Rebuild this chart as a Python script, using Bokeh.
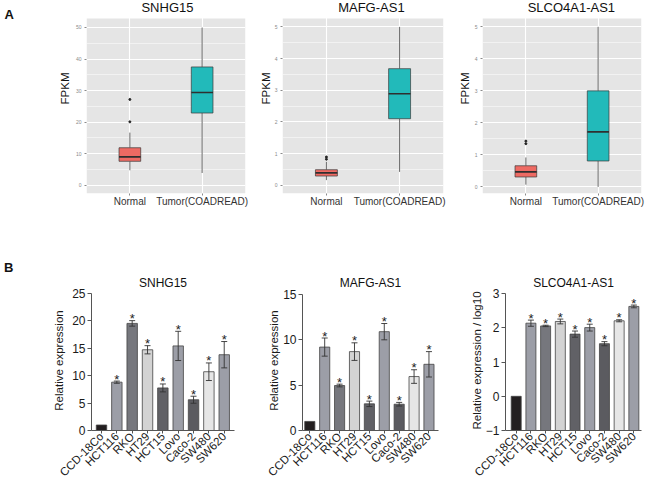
import math
from bokeh.plotting import figure
from bokeh.models import (FixedTicker, Label, Whisker, TeeHead, ColumnDataSource,
                          Range1d, BoxAnnotation, Div)
from bokeh.layouts import column, row
from bokeh.embed import file_html
from bokeh.resources import INLINE
from bokeh.core.properties import value

FONT = "Liberation Sans"

# ---------------- Panel A data (TCGA COADREAD, FPKM boxplots) ----------------
box_groups = ["Normal", "Tumor(COADREAD)"]

snhg15_q1 = [7.6, 22.9]
snhg15_med = [9.0, 29.4]
snhg15_q3 = [11.9, 37.5]
snhg15_lo = [4.75, 3.9]
snhg15_hi = [16.7, 50.0]
snhg15_out_group = [0, 0]
snhg15_out_val = [20.1, 27.2]

mafg_box_q1 = [0.29, 2.10]
mafg_box_med = [0.39, 2.89]
mafg_box_q3 = [0.49, 3.68]
mafg_box_lo = [0.16, 0.42]
mafg_box_hi = [0.74, 5.0]
mafg_out_group = [0, 0]
mafg_out_val = [0.82, 0.89]

slco_box_q1 = [0.31, 0.81]
slco_box_med = [0.47, 1.72]
slco_box_q3 = [0.66, 3.0]
slco_box_lo = [0.07, 0.0]
slco_box_hi = [0.92, 5.0]
slco_out_group = [0, 0]
slco_out_val = [1.35, 1.43]

snhg15_yticks = [0, 10, 20, 30, 40, 50]
small_yticks = [0, 1, 2, 3, 4, 5]

# ---------------- Panel B data (qRT-PCR in cell lines) ----------------
cell_lines = ["CCD-18Co", "HCT116", "RKO", "HT29", "HCT15", "Lovo", "Caco-2", "SW480", "SW620"]

snhg15_mean = [1.0, 8.8, 19.5, 14.7, 7.75, 15.4, 5.6, 10.7, 13.8]
snhg15_err = [0.0, 0.2, 0.5, 0.75, 0.72, 2.66, 0.64, 1.6, 2.4]

mafg_mean = [1.0, 9.2, 4.96, 8.7, 2.94, 10.9, 2.9, 5.95, 7.3]
mafg_err = [0.0, 1.0, 0.15, 0.97, 0.3, 0.9, 0.2, 0.75, 1.4]

slco_mean = [0.0, 2.14, 2.06, 2.19, 1.82, 2.01, 1.54, 2.21, 2.63]
slco_err = [0.0, 0.09, 0.02, 0.07, 0.09, 0.1, 0.06, 0.03, 0.04]

snhg15_bar_ticks = [0, 5, 10, 15, 20, 25]
mafg_bar_ticks = [0, 5, 10, 15]
slco_bar_ticks = [-1, 0, 1, 2, 3]

# ---------------- styles ----------------
BOX_COLORS = ["#EE6A63", "#22BABA"]
BAR_COLORS = ["#231F20", "#9C9EA7", "#76777D", "#D3D3D3", "#616166",
              "#9C9EA7", "#5B5B60", "#E6E6E6", "#9C9EA7"]
GRAY_BG = "#E5E5E5"


def make_fig(spec, xr, yr):
    left, top, w, h, L, R, T, B = spec
    p = figure(width=w, height=h, x_range=Range1d(*xr), y_range=Range1d(*yr),
               min_border_left=L, min_border_right=R, min_border_top=T, min_border_bottom=B,
               output_backend="svg", toolbar_location=None, tools="")
    p.outline_line_color = None
    p.border_fill_color = "white"
    p.background_fill_color = "white"
    return p


def frame_of(spec):
    left, top, w, h, L, R, T, B = spec
    return (left + L, top + T, left + w - R, top + h - B)


def place(p, spec, rx, ry):
    fl, ft, fr, fb = frame_of(spec)
    x0, x1 = p.x_range.start, p.x_range.end
    y0, y1 = p.y_range.start, p.y_range.end
    x = x0 + (rx - fl) * (x1 - x0) / (fr - fl)
    y = y1 - (ry - ft) * (y1 - y0) / (fb - ft)
    return x, y


def add_text(p, spec, rx, ry, text, size, bold=False, align="center", angle=0.0):
    x, y = place(p, spec, rx, ry)
    p.add_layout(Label(x=x, y=y, text=text, text_font=FONT, text_font_size=size,
                       text_font_style="bold" if bold else "normal", angle=angle,
                       text_align=align, text_baseline="middle", text_color="#111111"))


def strip(left, top, w, h, T, B):
    """Blank figure holding free text; its frame matches the neighbours' frames."""
    spec = (left, top, w, h, 0, 0, T, B)
    p = figure(width=w, height=h, x_range=Range1d(left, left + w),
               y_range=Range1d(top + h - B, top + T),
               min_border_left=0, min_border_right=0, min_border_top=T, min_border_bottom=B,
               x_axis_location=None, y_axis_location=None,
               output_backend="svg", toolbar_location=None, tools="")
    p.outline_line_color = None
    p.grid.visible = False
    return p, spec


def box_panel(spec, gray_top_px, yr, yticks, q1, med, q3, lo, hi, out_g, out_v, title, title_x):
    xs = list(range(1, len(box_groups) + 1))
    fl, ft, fr, fb = frame_of(spec)
    per_px = (yr[1] - yr[0]) / (fb - gray_top_px)
    ytop = yr[1] + (gray_top_px - ft) * per_px
    p = make_fig(spec, (0.4, 2.6), (yr[0], ytop))
    p.add_layout(BoxAnnotation(left=0.4, right=2.6, bottom=yr[0], top=yr[1],
                               fill_color=GRAY_BG, fill_alpha=1.0, line_color=None,
                               level="image"))
    step = yticks[1] - yticks[0]
    minors = [t + step / 2 for t in yticks[:-1]]
    p.xaxis.ticker = FixedTicker(ticks=xs)
    p.xaxis.major_label_overrides = {x: g for x, g in zip(xs, box_groups)}
    p.yaxis.ticker = FixedTicker(ticks=yticks, minor_ticks=minors)
    p.xgrid.ticker = FixedTicker(ticks=xs)
    p.xgrid.bounds = (yr[0], yr[1])
    p.ygrid.ticker = FixedTicker(ticks=yticks, minor_ticks=minors)
    p.grid.grid_line_color = "white"
    p.grid.grid_line_width = 1.1
    p.ygrid.minor_grid_line_color = "white"
    p.ygrid.minor_grid_line_width = 0.5
    for ax in (p.xaxis, p.yaxis):
        ax.axis_line_color = None
        ax.major_tick_line_color = "#8A8A8A"
        ax.major_tick_out = 2
        ax.major_tick_in = 0
        ax.minor_tick_line_color = None
        ax.major_label_text_font = FONT
    p.yaxis.major_label_text_font_size = "5px"
    p.yaxis.major_label_text_color = "#8A8A8A"
    p.yaxis.major_label_standoff = 1
    p.xaxis.major_label_text_font_size = "10px"
    p.xaxis.major_label_text_color = "#333333"
    p.xaxis.major_label_standoff = 0

    p.segment(xs, hi, xs, q3, line_color="#444444", line_width=0.8)
    p.segment(xs, lo, xs, q1, line_color="#444444", line_width=0.8)
    p.vbar(x=xs, width=0.3, bottom=q1, top=q3, fill_color=BOX_COLORS,
           line_color="#3A3A3A", line_width=0.7)
    p.segment([x - 0.15 for x in xs], med, [x + 0.15 for x in xs], med,
              line_color="#2F2F2F", line_width=1.6)
    p.scatter([xs[g] for g in out_g], out_v, size=2.0, color="#222222")
    add_text(p, spec, title_x, 6.5, title, "13px")
    return p


def bar_panel(spec, xr, yr, yticks, mean, err, base, title, ylabel, label_standoff):
    xs = list(range(len(cell_lines)))
    p = make_fig(spec, xr, yr)
    p.grid.visible = False
    p.title.text = title
    p.title.align = "center"
    p.title.text_font = FONT
    p.title.text_font_size = "12px"
    p.title.text_font_style = "normal"
    p.title.text_color = "#111111"
    p.title.standoff = 1
    p.vbar(x=xs, width=0.68, bottom=base, top=mean, fill_color=BAR_COLORS,
           line_color="#444444", line_width=0.8)
    idx = [i for i in xs if err[i] > 0]
    src = ColumnDataSource(dict(x=[xs[i] for i in idx],
                                upper=[mean[i] + err[i] for i in idx],
                                lower=[mean[i] - err[i] for i in idx]))
    wk = Whisker(base="x", upper="upper", lower="lower", source=src, dimension="height",
                 line_color="#333333", line_width=0.9,
                 upper_head=TeeHead(size=6, line_color="#333333", line_width=0.9),
                 lower_head=TeeHead(size=6, line_color="#333333", line_width=0.9))
    wk.level = "overlay"
    p.add_layout(wk)
    p.text(x=[xs[i] for i in idx], y=[mean[i] + err[i] for i in idx], text=["*"] * len(idx),
           text_align="center", text_baseline="alphabetic", text_font=value(FONT),
           text_font_size="13px", text_color="#222222", y_offset=-2)

    p.xaxis.ticker = FixedTicker(ticks=xs)
    p.xaxis.major_label_overrides = {x: c for x, c in zip(xs, cell_lines)}
    p.xaxis.major_label_orientation = math.pi / 4
    p.yaxis.ticker = FixedTicker(ticks=yticks)
    p.yaxis.bounds = (yticks[0], yticks[-1])
    for ax in (p.xaxis, p.yaxis):
        ax.axis_line_color = "#555555"
        ax.axis_line_width = 1
        ax.major_tick_line_color = "#555555"
        ax.major_tick_in = 0
        ax.minor_tick_line_color = None
        ax.major_label_text_font = FONT
        ax.major_label_text_color = "#1A1A1A"
    p.xaxis.major_tick_out = 3
    p.xaxis.major_label_standoff = 1
    p.xaxis.major_label_text_font_size = "11.5px"
    p.yaxis.major_tick_out = 4
    p.yaxis.major_label_standoff = 2
    p.yaxis.major_label_text_font_size = "12px"
    p.yaxis.axis_label = ylabel
    p.yaxis.axis_label_text_font = FONT
    p.yaxis.axis_label_text_font_size = "11.5px"
    p.yaxis.axis_label_text_font_style = "normal"
    p.yaxis.axis_label_text_color = "#1A1A1A"
    p.yaxis.axis_label_standoff = label_standoff
    return p


TOP_H = 250
BOT_H = 488 - TOP_H
TOP_B = TOP_H - 193
# layout specs in page pixels: (left, top, width, height, L, R, T, B)
F1 = (72, 0, 183, TOP_H, 9, 10, 0, TOP_B)
F2 = (271, 0, 184, TOP_H, 9, 12, 0, TOP_B)
F3 = (471, 0, 179, TOP_H, 9, 9, 0, TOP_B)
G1 = (14, TOP_H, 244, BOT_H, 77, 24, 290 - TOP_H, 58)
G2 = (258, TOP_H, 204, BOT_H, 44, 24, 290 - TOP_H, 58)
G3 = (462, TOP_H, 188, BOT_H, 43, 9, 290 - TOP_H, 58)
GRAY_TOP = 18

# ---- top row ----
sA, sA_spec = strip(0, 0, 72, TOP_H, 0, TOP_B)
add_text(sA, sA_spec, 4, 14, "A", "13px", bold=True, align="left")
add_text(sA, sA_spec, 64, 88, "FPKM", "11.5px", angle=math.pi / 2)
f1 = box_panel(F1, GRAY_TOP, (-2.6, 52.85), snhg15_yticks, snhg15_q1, snhg15_med,
               snhg15_q3, snhg15_lo, snhg15_hi, snhg15_out_group, snhg15_out_val,
               "SNHG15", 164.5)
s2, s2_spec = strip(255, 0, 16, TOP_H, 0, TOP_B)
add_text(s2, s2_spec, 265, 88, "FPKM", "11.5px", angle=math.pi / 2)
f2 = box_panel(F2, GRAY_TOP, (-0.262, 5.265), small_yticks, mafg_box_q1,
               mafg_box_med, mafg_box_q3, mafg_box_lo, mafg_box_hi, mafg_out_group,
               mafg_out_val, "MAFG-AS1", 370)
s3, s3_spec = strip(455, 0, 16, TOP_H, 0, TOP_B)
add_text(s3, s3_spec, 464, 88, "FPKM", "11.5px", angle=math.pi / 2)
f3 = box_panel(F3, GRAY_TOP, (-0.206, 5.26), small_yticks, slco_box_q1,
               slco_box_med, slco_box_q3, slco_box_lo, slco_box_hi, slco_out_group,
               slco_out_val, "SLCO4A1-AS1", 570)

# ---- bottom row ----
letter_b = Div(text="B", width=14, height=BOT_H, margin=0,
               styles={"font-family": FONT, "font-weight": "bold", "font-size": "13px",
                       "line-height": "13px", "padding-top": "11px", "padding-left": "4px",
                       "box-sizing": "border-box", "overflow": "hidden",
                       "color": "#111111"})
g1 = bar_panel(G1, (-0.652, 8.67), (0, 25.49), snhg15_bar_ticks, snhg15_mean, snhg15_err, 0,
               "SNHG15", "Relative expression", 4)
g2 = bar_panel(G2, (-0.49, 8.64), (0, 15.44), mafg_bar_ticks, mafg_mean, mafg_err, 0,
               "MAFG-AS1", "Relative expression", 0)
g3 = bar_panel(G3, (-0.728, 8.52), (-1, 3.096), slco_bar_ticks, slco_mean, slco_err, -1,
               "SLCO4A1-AS1", "Relative expression / log10", 0)

layout = column(row(sA, f1, s2, f2, s3, f3, spacing=0),
                row(letter_b, g1, g2, g3, spacing=0), spacing=0)
open("out.html", "w").write(file_html(layout, INLINE))
